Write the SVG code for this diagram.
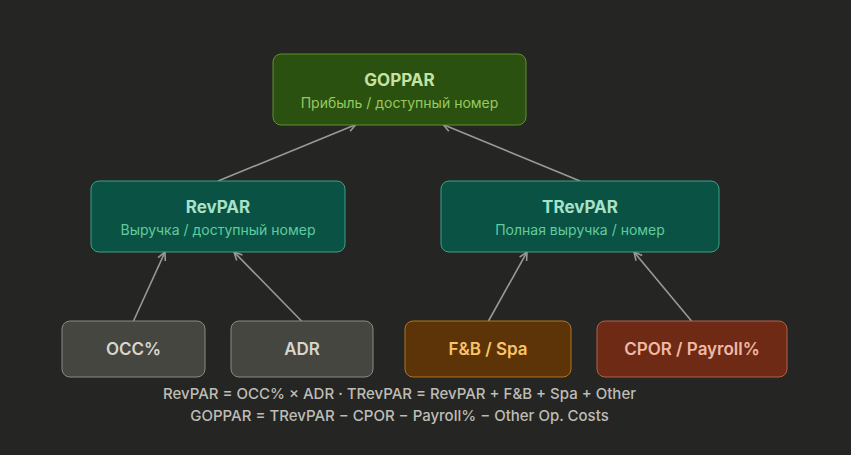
<svg xmlns="http://www.w3.org/2000/svg" width="851" height="455" viewBox="0 0 851 455">
<defs>
<marker id="ah" viewBox="0 0 10 10" refX="9" refY="5" markerWidth="10" markerHeight="10" markerUnits="userSpaceOnUse" orient="auto">
<path d="M1,1 L9,5 L1,9" fill="none" stroke="#9a9a94" stroke-width="1.6"/>
</marker>
<style>
text{font-family:Inter,"Liberation Sans",sans-serif;text-anchor:middle}
.t{font-size:17px;font-weight:700}
.s{font-size:14px;font-weight:400}
.b{font-size:17px;font-weight:600}
.f{font-size:15px;font-weight:500;fill:#bdbdb6}
.c line{stroke:#9a9a94;stroke-width:1.6;marker-end:url(#ah)}
</style>
</defs>
<rect width="851" height="455" fill="#252523"/>
<g class="c" id="connectors">
<line x1="218" y1="181" x2="356" y2="124.5"/>
<line x1="580" y1="181" x2="443" y2="124.5"/>
<line x1="133.5" y1="321" x2="165" y2="252"/>
<line x1="301.5" y1="321" x2="234" y2="252"/>
<line x1="488.5" y1="321" x2="527" y2="252"/>
<line x1="691.5" y1="321" x2="634" y2="252"/>
</g>
<g id="goppar">
<rect x="273" y="54" width="253" height="71" rx="8" fill="#2b5110" stroke="#62902f" stroke-width="1"/>
<text class="t" x="399.5" y="86" fill="#c5e3a0">GOPPAR</text>
<text class="s" x="399.5" y="108" fill="#98c95e">Прибыль / доступный номер</text>
</g>
<g id="revpar">
<rect x="91" y="181" width="254" height="71" rx="8" fill="#0a5244" stroke="#3aa385" stroke-width="1"/>
<text class="t" x="218" y="213" fill="#a6e2c9">RevPAR</text>
<text class="s" x="218" y="235" fill="#60cc9e">Выручка / доступный номер</text>
</g>
<g id="trevpar">
<rect x="441" y="181" width="278" height="71" rx="8" fill="#0a5244" stroke="#3aa385" stroke-width="1"/>
<text class="t" x="580" y="213" fill="#a6e2c9">TRevPAR</text>
<text class="s" x="580" y="235" fill="#60cc9e">Полная выручка / номер</text>
</g>
<g id="occ">
<rect x="62" y="321" width="143" height="56" rx="8" fill="#464641" stroke="#8a8a84" stroke-width="1"/>
<text class="b" x="133.5" y="355" fill="#d6d6ce">OCC%</text>
</g>
<g id="adr">
<rect x="231" y="321" width="142" height="56" rx="8" fill="#464641" stroke="#8a8a84" stroke-width="1"/>
<text class="b" x="302" y="355" fill="#d6d6ce">ADR</text>
</g>
<g id="fbspa">
<rect x="405" y="321" width="166" height="56" rx="8" fill="#5c3408" stroke="#b27420" stroke-width="1"/>
<text class="b" x="488" y="355" fill="#f7c468">F&amp;B / Spa</text>
</g>
<g id="cpor">
<rect x="597" y="321" width="190" height="56" rx="8" fill="#6e2a14" stroke="#b0604a" stroke-width="1"/>
<text class="b" x="692" y="355" fill="#f0b8a6">CPOR / Payroll%</text>
</g>
<g id="footer">
<text class="f" x="399.5" y="399">RevPAR = OCC% × ADR · TRevPAR = RevPAR + F&amp;B + Spa + Other</text>
<text class="f" x="399.5" y="421">GOPPAR = TRevPAR − CPOR − Payroll% − Other Op. Costs</text>
</g>
</svg>
